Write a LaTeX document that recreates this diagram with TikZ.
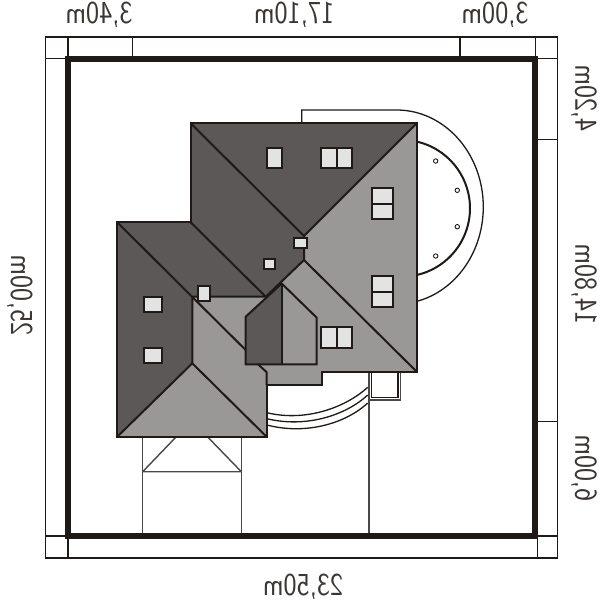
\documentclass[tikz,border=0pt]{standalone}
\usepackage{graphicx}
\definecolor{ink}{HTML}{1F1A17}
\definecolor{roofdark}{HTML}{5C5857}
\definecolor{rooflight}{HTML}{9A9896}
\definecolor{pane}{HTML}{E3E3E3}
\definecolor{thin}{HTML}{4A4846}
\definecolor{lblink}{HTML}{3A3634}
\newcommand{\lblfont}{\sffamily\fontsize{32}{32}\selectfont}
\newcommand{\mirh}[1]{\scalebox{-.87}[1]{\lblfont #1}}
\newcommand{\mirv}[1]{\scalebox{-1}[1]{\rotatebox{90}{\scalebox{.87}[1]{\lblfont #1}}}}
\tikzset{
  edge/.style={draw=ink,line width=2pt,line join=miter},
  fine/.style={draw=ink,line width=1.3pt},
  frame/.style={draw=ink,line width=5.8pt,line join=miter},
  pane/.style={fill=pane,draw=ink,line width=1.9pt},
  lbl/.style={inner sep=0pt,text=lblink},
  post/.style={draw=ink,line width=.9pt,fill=white}
}
\begin{document}
\begin{tikzpicture}[x=1pt,y=-1pt]
\useasboundingbox (0,0) rectangle (600,600);
\fill[white] (0,0) rectangle (600,600);
% plot frame
\draw[fine] (45.5,37) rectangle (557.5,558);
\draw[fine] (68,37) -- (68,58) (132.5,37) -- (132.5,58) (460,37) -- (460,58) (535.5,37) -- (535.5,58);
\draw[fine] (45.5,58.5) -- (66,58.5) (537,58.5) -- (557.5,58.5) (537,139.3) -- (557.5,139.3) (537,421.7) -- (557.5,421.7);
\draw[fine] (45.5,536) -- (66,536) (537,536) -- (557.5,536) (68,536) -- (68,558) (537.5,536) -- (537.5,558);
% driveway and paths
\draw[draw=thin,line width=1.4pt] (142.7,436) -- (142.7,534) (241.3,436) -- (241.3,534) (369,371) -- (369,534);
\draw[draw=thin,line width=1.4pt] (142.7,471.7) -- (241.3,471.7) (142.7,471.7) -- (176,437) (241.3,471.7) -- (207.7,437);
\draw[frame] (68.3,59) rectangle (535,536);
% porch
\draw[fine] (371.5,371) -- (371.5,397.5) -- (398,397.5) -- (398,371);
\draw[draw=thin,line width=1.3pt] (369,400) -- (400.5,400) -- (400.5,371);
% terrace curves
\draw[fine] (267,412.7) .. controls (305,422) and (345,408) .. (367.7,387.3);
\draw[fine] (267,418.7) .. controls (305,428) and (345,416) .. (367.7,395);
\draw[fine] (267,425) .. controls (305,435) and (345,424) .. (367.7,403);
% rear semicircles
\draw[fine] (301.7,123) -- (301.7,110) -- (396.7,110)
  plot[domain=-90:76.65,samples=70] ({396.7+86.6*cos(\x)},{207+97*sin(\x)});
\draw[draw=ink,line width=2pt] plot[domain=-77:77,samples=60] ({401.6+68.4*cos(\x)},{208.3+68.4*sin(\x)});
\foreach \px/\py in {435.7/161,457.3/190.3,457.3/226.7,435.7/256}
  \draw[post] (\px,\py) circle (2.2);
% roof
\path[fill=rooflight] (190.7,123.3) -- (416.7,123.3) -- (416.7,371.7) -- (321.7,371.7) -- (321.7,385) -- (266.5,385) -- (266.5,436.7) -- (117.3,436.7) -- (117.3,222.3) -- (190.7,222.3) -- cycle;
\path[fill=roofdark] (190.7,123.3) -- (416.7,123.3) -- (304,236) -- (304,260) -- (265.7,296.7) -- (190.7,222.3) -- cycle;
\path[fill=roofdark] (117.3,222.3) -- (190.7,222.3) -- (265.7,296.7) -- (192.3,296.7) -- (192.3,363.3) -- (117.3,436.7) -- cycle;
\path[fill=roofdark] (281.7,283.5) -- (245.7,316.7) -- (245.7,364.3) -- (281.7,364.3) -- cycle;
% roof lines
\draw[edge] (190.7,123.3) -- (304,236) (416.7,123.3) -- (304,236) -- (304,260) -- (416.7,371.7);
\draw[edge] (304,260) -- (265.7,296.7) -- (190.7,222.3) (117.3,222.3) -- (192.3,297) -- (192.3,363.3) (265.7,296.7) -- (192.3,296.7);
\draw[edge] (192.3,297) -- (245.7,350) (117.3,436.7) -- (192.3,363.3) -- (266.5,436.7);
\draw[edge] (266.5,385) -- (266.5,372) -- (258,364.3);
\draw[edge] (281.7,283.5) -- (245.7,316.7) -- (245.7,364.3) -- (316.7,364.3) -- (316.7,317.7) -- cycle;
\draw[edge] (281.7,283.5) -- (281.7,364.3);
\draw[edge] (190.7,123.3) -- (416.7,123.3) -- (416.7,371.7) -- (321.7,371.7) -- (321.7,385) -- (266.5,385) -- (266.5,436.7) -- (117.3,436.7) -- (117.3,222.3) -- (190.7,222.3) -- cycle;
% windows
\draw[pane] (266.7,148.3) rectangle (281.7,168.3);
\draw[pane] (320.7,148.3) rectangle (336.7,168.3);
\draw[pane] (336.7,148.3) rectangle (351.7,168.3);
\draw[pane] (371.7,188.3) rectangle (392.7,204.3);
\draw[pane] (371.7,204.3) rectangle (392.7,219.3);
\draw[pane] (371.7,276.3) rectangle (392.7,291.7);
\draw[pane] (371.7,291.7) rectangle (392.7,306.7);
\draw[pane] (321,327.3) rectangle (336.7,347.7);
\draw[pane] (336.7,327.3) rectangle (351.7,347.7);
\draw[pane] (144.3,296.7) rectangle (162.3,311.7);
\draw[pane] (144.3,347.7) rectangle (162.3,362.7);
% chimneys
\draw[pane] (294,238.3) rectangle (306.7,248.3);
\draw[pane] (264.3,259) rectangle (275.3,269.3);
\draw[pane] (198.3,286) rectangle (210.3,301);
% labels
\node[lbl,anchor=base] (top1) at (99,23) {\mirh{3,40m}};
\node[lbl,anchor=base] (top2) at (294,23) {\mirh{17,10m}};
\node[lbl,anchor=base] (top3) at (495,23) {\mirh{3,00m}};
\node[lbl,anchor=base] (bot) at (303,595) {\mirh{23,50m}};
\node[lbl] (lft) at (20,295) {\mirv{25,00m}};
\node[lbl] (rgt1) at (584,98) {\mirv{4,20m}};
\node[lbl] (rgt2) at (584,284) {\mirv{14,80m}};
\node[lbl] (rgt3) at (584,468) {\mirv{6,00m}};
\end{tikzpicture}
\end{document}
